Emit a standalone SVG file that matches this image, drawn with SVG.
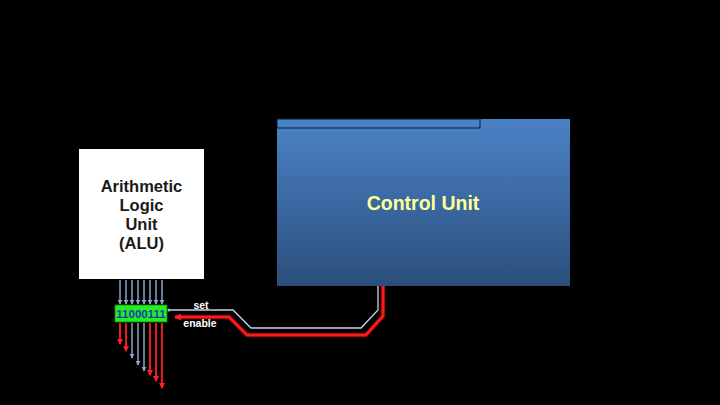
<svg xmlns="http://www.w3.org/2000/svg" width="720" height="405" viewBox="0 0 720 405">
<defs>
<linearGradient id="cuGrad" x1="0" y1="0" x2="0" y2="1">
<stop offset="0" stop-color="#4a82c6"/>
<stop offset="1" stop-color="#2b4e7c"/>
</linearGradient>
<marker id="blueHead" viewBox="0 0 6 6" refX="5" refY="3" markerWidth="5" markerHeight="5" orient="auto" markerUnits="userSpaceOnUse">
<path d="M0,0 L6,3 L0,6 z" fill="#8aa4cc"/>
</marker>
<marker id="redHead" viewBox="0 0 6 6" refX="5" refY="3" markerWidth="6" markerHeight="6" orient="auto" markerUnits="userSpaceOnUse">
<path d="M0,0 L6,3 L0,6 z" fill="#ff2020"/>
</marker>
<marker id="redHeadL" viewBox="0 0 6 6" refX="5" refY="3" markerWidth="7" markerHeight="7" orient="auto" markerUnits="userSpaceOnUse">
<path d="M0,0 L6,3 L0,6 z" fill="#ff2020"/>
</marker>
</defs>
<style>
.lbl{font-family:"Liberation Sans",Arial,sans-serif;font-weight:bold}
.in{stroke:#8aa4cc;stroke-width:1.5;fill:none}
.outB{stroke:#8aa4cc;stroke-width:1.5;fill:none}
.outR{stroke:#e81c1c;stroke-width:2;fill:none}
</style>
<rect width="720" height="405" fill="#000"/>

<g id="alu">
<rect x="79" y="149" width="125" height="130" fill="#fff"/>
<text class="lbl" x="141.5" y="192" font-size="16.5" text-anchor="middle" fill="#1a1a1a">Arithmetic</text>
<text class="lbl" x="141.5" y="211" font-size="16.5" text-anchor="middle" fill="#1a1a1a">Logic</text>
<text class="lbl" x="141.5" y="230" font-size="16.5" text-anchor="middle" fill="#1a1a1a">Unit</text>
<text class="lbl" x="141.5" y="249" font-size="16.5" text-anchor="middle" fill="#1a1a1a">(ALU)</text>
</g>

<g id="control-unit">
<rect x="277" y="119" width="293" height="167" fill="url(#cuGrad)"/>
<rect x="277" y="119" width="203" height="9" fill="#4a82c6" stroke="#0a1530" stroke-width="1"/>
<text class="lbl" x="423" y="210" font-size="19.5" text-anchor="middle" fill="#ffff99">Control Unit</text>
</g>

<g id="connectors">
<line class="in" x1="120" y1="280" x2="120" y2="304" marker-end="url(#blueHead)"/>
<line class="in" x1="126" y1="280" x2="126" y2="304" marker-end="url(#blueHead)"/>
<line class="in" x1="132" y1="280" x2="132" y2="304" marker-end="url(#blueHead)"/>
<line class="in" x1="138" y1="280" x2="138" y2="304" marker-end="url(#blueHead)"/>
<line class="in" x1="144" y1="280" x2="144" y2="304" marker-end="url(#blueHead)"/>
<line class="in" x1="150" y1="280" x2="150" y2="304" marker-end="url(#blueHead)"/>
<line class="in" x1="156" y1="280" x2="156" y2="304" marker-end="url(#blueHead)"/>
<line class="in" x1="162" y1="280" x2="162" y2="304" marker-end="url(#blueHead)"/>
<line class="outR" x1="120" y1="323" x2="120" y2="344" marker-end="url(#redHead)"/>
<line class="outR" x1="126" y1="323" x2="126" y2="351" marker-end="url(#redHead)"/>
<line class="outB" x1="132" y1="323" x2="132" y2="358" marker-end="url(#blueHead)"/>
<line class="outB" x1="138" y1="323" x2="138" y2="365" marker-end="url(#blueHead)"/>
<line class="outB" x1="144" y1="323" x2="144" y2="371" marker-end="url(#blueHead)"/>
<line class="outR" x1="150" y1="323" x2="150" y2="375" marker-end="url(#redHead)"/>
<line class="outR" x1="156" y1="323" x2="156" y2="381" marker-end="url(#redHead)"/>
<line class="outR" x1="162" y1="323" x2="162" y2="388" marker-end="url(#redHead)"/>
<polyline points="378,286 378,310 361,328 251,328 233,310 168,310" fill="none" stroke="#c8d4e8" stroke-width="1.3"/>
<circle cx="169" cy="310" r="1.6" fill="#7fd0c0"/>
<polyline points="383,286 383,316 366,335 247,335 229,317 175,317" fill="none" stroke="#400000" stroke-width="5"/>
<polyline points="383,286 383,316 366,335 247,335 229,317 175,317" fill="none" stroke="#ff1a1a" stroke-width="3" marker-end="url(#redHeadL)"/>
<text class="lbl" x="201" y="309" font-size="10.5" text-anchor="middle" fill="#fff">set</text>
<text class="lbl" x="200" y="327" font-size="10.5" text-anchor="middle" fill="#fff">enable</text>
</g>

<g id="register">
<rect x="115" y="305" width="52" height="17" fill="#22ee22" stroke="#118811" stroke-width="0.8"/>
<text class="lbl" x="141" y="318" font-size="11.5" text-anchor="middle" fill="#1a3aa8">11000111</text>
</g>
</svg>
